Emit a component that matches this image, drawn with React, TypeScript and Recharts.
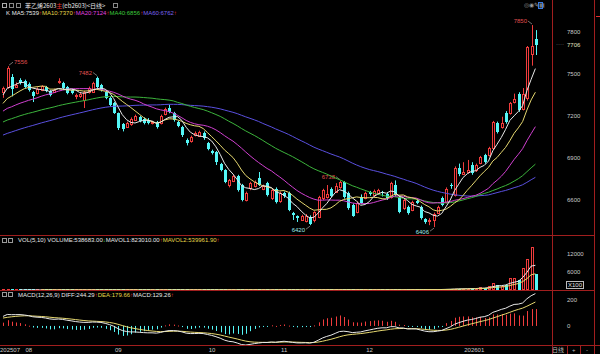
import React from "react";
import { ComposedChart, Bar, Line, XAxis, YAxis } from "recharts";

// eb2603 daily bars, 2025-07-24 .. 2026-01-27
const opens = [
  7370, 7405, 7480, 7410, 7457, 7450,
  7430, 7371, 7364, 7385, 7407, 7379, 7371, 7440, 7436, 7407, 7386, 7345, 7340, 7314, 7371, 7371, 7470, 7421, 7371, 7329, 7293,
  7221, 7143, 7125, 7140, 7175, 7190, 7180, 7175, 7150, 7157, 7150, 7214, 7257, 7221, 7157, 7121, 7029, 7021, 7064, 7060, 7079, 7007,
  6950, 6943, 6857, 6814, 6707, 6736, 6771, 6707, 6600, 6686, 6700, 6757, 6680, 6721, 6614, 6679, 6590,
  6650, 6650, 6507, 6486, 6457, 6450, 6479, 6457, 6479, 6614, 6620, 6679, 6660, 6690, 6729, 6650, 6564, 6514, 6621, 6614,
  6657, 6636, 6650, 6657, 6640, 6621, 6707, 6621, 6543, 6550, 6529, 6590, 6550, 6464, 6450, 6457, 6507, 6614, 6586, 6710, 6636, 6829, 6786,
  6800, 6850, 6814, 6864, 6921, 6921, 6971, 7150, 7120, 7221, 7221, 7300, 7357, 7250, 7330, 7640, 7750,
];
const highs = [
  7410, 7556, 7500, 7440, 7470, 7460,
  7440, 7380, 7405, 7420, 7415, 7385, 7395, 7470, 7445, 7415, 7395, 7360, 7370, 7380, 7410, 7445, 7482, 7430, 7380, 7340, 7300,
  7225, 7150, 7160, 7190, 7210, 7200, 7190, 7185, 7165, 7165, 7210, 7260, 7280, 7230, 7165, 7130, 7040, 7060, 7090, 7095, 7090, 7015,
  6960, 6950, 6865, 6820, 6750, 6780, 6780, 6715, 6660, 6730, 6740, 6800, 6710, 6730, 6680, 6690, 6660,
  6660, 6660, 6515, 6490, 6495, 6500, 6490, 6520, 6630, 6680, 6707, 6690, 6720, 6738, 6735, 6660, 6575, 6590, 6640, 6660,
  6665, 6675, 6680, 6665, 6650, 6730, 6740, 6630, 6610, 6560, 6595, 6600, 6560, 6470, 6470, 6510, 6560, 6625, 6690, 6720, 6840, 6860, 6870,
  6886, 6870, 6860, 6915, 6930, 6980, 7165, 7160, 7195, 7235, 7300, 7360, 7370, 7400, 7700, 7850, 7814,
];
const lows = [
  7330, 7395, 7340, 7400, 7425, 7400,
  7375, 7300, 7355, 7378, 7370, 7340, 7364, 7430, 7390, 7355, 7355, 7320, 7330, 7257, 7360, 7365, 7400, 7375, 7320, 7270, 7215,
  7100, 7090, 7115, 7130, 7165, 7155, 7140, 7140, 7140, 7110, 7140, 7205, 7220, 7160, 7120, 7050, 6990, 7010, 7055, 7050, 7030, 6955,
  6925, 6850, 6805, 6720, 6690, 6728, 6660, 6590, 6590, 6670, 6690, 6700, 6670, 6625, 6600, 6575, 6580,
  6615, 6520, 6457, 6443, 6450, 6440, 6420, 6440, 6470, 6600, 6610, 6620, 6650, 6680, 6610, 6530, 6480, 6505, 6570, 6605,
  6630, 6625, 6640, 6625, 6600, 6610, 6625, 6505, 6530, 6495, 6520, 6570, 6460, 6430, 6420, 6406, 6500, 6555, 6575, 6680, 6625, 6770, 6780,
  6790, 6780, 6800, 6855, 6860, 6910, 6960, 7075, 7110, 7145, 7210, 7290, 7230, 7240, 7310, 7560, 7636,
];
const closes = [
  7400, 7545, 7390, 7425, 7436, 7407,
  7386, 7343, 7393, 7414, 7380, 7350, 7386, 7452, 7400, 7364, 7364, 7352, 7360, 7371, 7400, 7436, 7407, 7386, 7329, 7279, 7221,
  7114, 7107, 7150, 7180, 7200, 7165, 7150, 7150, 7155, 7121, 7200, 7250, 7229, 7171, 7129, 7064, 7007, 7050, 7079, 7085, 7043, 6964,
  6936, 6871, 6814, 6729, 6743, 6771, 6671, 6600, 6650, 6721, 6730, 6707, 6700, 6636, 6671, 6586, 6650,
  6625, 6529, 6493, 6472, 6486, 6486, 6425, 6514, 6621, 6671, 6640, 6629, 6700, 6729, 6621, 6543, 6487, 6579, 6580, 6650,
  6643, 6664, 6671, 6650, 6614, 6721, 6636, 6514, 6600, 6507, 6586, 6580, 6471, 6443, 6460, 6500, 6550, 6564, 6680, 6706, 6829, 6786, 6800,
  6816, 6793, 6850, 6907, 6871, 6971, 7157, 7086, 7150, 7157, 7293, 7320, 7243, 7356, 7690, 7700, 7706,
];
// volume in lots x100
const volumes = [
  40, 60, 50, 35, 30, 30,
  35, 40, 30, 30, 35, 30, 25, 40, 35, 30, 30, 25, 30, 45, 35, 40, 50, 40, 35, 40, 45,
  55, 45, 40, 45, 40, 35, 35, 30, 30, 40, 35, 45, 40, 50, 45, 55, 45, 40, 35, 35, 45, 50,
  50, 55, 60, 65, 55, 50, 60, 65, 55, 50, 55, 60, 50, 60, 55, 65, 55,
  60, 70, 65, 60, 55, 55, 75, 70, 90, 80, 70, 65, 75, 80, 85, 90, 75, 70, 65, 70,
  70, 75, 70, 80, 85, 110, 100, 120, 100, 110, 115, 120, 140, 130, 125, 150, 140, 300, 350, 320, 500, 450, 460,
  470, 520, 500, 1000, 600, 1300, 2200, 1800, 1350, 1700, 4000, 4000, 3500, 7500, 10300, 14500, 5387,
];
// closes before the first visible bar; they only feed the averages
const priorCloses = [
  6820, 6800, 6810, 6830, 6845, 6840, 6860, 6850, 6870, 6880, 6875, 6890, 6900, 6895, 6910, 6920, 6930, 6925, 6950, 6940,
  6990, 7000, 7020, 7010, 7040, 7050, 7045, 7060, 7070, 7080, 7075, 7100, 7110, 7120, 7110, 7120, 7130, 7125, 7160, 7175,
  7150, 7170, 7160, 7190, 7200, 7180, 7175, 7195, 7190, 7190,
  7200, 7215, 7240, 7250, 7245, 7300, 7330, 7350, 7370,
];

const monthTicks = [0, 6, 27, 49, 66, 86, 109];
const monthLabels = ["202507", "08", "09", "10", "11", "12", "202601"];
const priceTicks = [6600, 6900, 7200, 7500, 7800];
const volTicks = [6000, 12000];
const macdTicks = [0, 200];
const highMarks = [1, 22, 79, 124];
const lowMarks = [72, 101];

const RED = "#f03c3c";
const CYAN = "#54f6f6";
const AXIS = "#a01e1e";
const TXT = "#c8c8c8";
const WHITE = "#e8e8e8";
const YELLOW = "#e6d84a";
const ARROW = "#e03030";
const FONT = '"Liberation Sans", Arial, sans-serif';
const CJK = '"Noto Sans CJK SC", sans-serif';
const X_DOMAIN: [number, number] = [-0.7, 128.9];

const P = priorCloses.length;
const allCloses = [...priorCloses, ...closes];

function sma(n: number, j: number) {
  let s = 0;
  for (let k = j - n + 1; k <= j; k++) s += allCloses[k];
  return s / n;
}

function ema(src: number[], n: number) {
  const a = 2 / (n + 1);
  const out: number[] = [];
  src.forEach((v, i) => out.push(i === 0 ? v : a * v + (1 - a) * out[i - 1]));
  return out;
}

const ema12 = ema(allCloses, 12);
const ema26 = ema(allCloses, 26);
const diffAll = ema12.map((v, i) => v - ema26[i]);
const deaAll = ema(diffAll, 9);

function volAvg(n: number, i: number) {
  if (i < n - 1) return null;
  let s = 0;
  for (let k = i - n + 1; k <= i; k++) s += volumes[k];
  return s / n;
}

const rows = closes.map((c, i) => {
  const j = i + P;
  return {
    i,
    open: opens[i],
    high: highs[i],
    low: lows[i],
    close: c,
    ma5: sma(5, j),
    ma10: sma(10, j),
    ma20: sma(20, j),
    ma40: sma(40, j),
    ma60: sma(60, j),
    vol: volumes[i],
    mavol1: volAvg(5, i),
    mavol2: volAvg(10, i),
    diff: diffAll[j],
    dea: deaAll[j],
    hist: 2 * (diffAll[j] - deaAll[j]),
  };
});

function Candle(props: any) {
  const { x, y, width, height, payload } = props;
  const cx = Math.round(x + width / 2);
  const { open, close, high, low, i } = payload;
  const k = height / (high - low);
  const py = (v: number) => y + (high - v) * k;
  const top = Math.round(py(Math.max(open, close)));
  const bot = Math.round(py(Math.min(open, close)));
  const up = close >= open;
  const col = up ? RED : CYAN;
  const hi = highMarks.includes(i);
  const lo = lowMarks.includes(i);
  return (
    <g>
      <line x1={cx + 0.5} x2={cx + 0.5} y1={y} y2={top} stroke={col} />
      <line x1={cx + 0.5} x2={cx + 0.5} y1={bot} y2={y + height} stroke={col} />
      {up ? (
        <rect x={cx - 0.5} y={top + 0.5} width={2} height={Math.max(bot - top, 1)} fill="#000" stroke={col} />
      ) : (
        <rect x={cx - 1} y={top} width={3} height={Math.max(bot - top, 1)} fill={col} />
      )}
      {hi && i < 5 && (
        <g>
          <line x1={cx + 1} y1={y - 1} x2={cx + 5} y2={y - 4} stroke="#bbb" strokeWidth={0.6} />
          <text x={cx + 6} y={y - 2} fontSize={6} fill="#e05050" fontFamily={FONT}>{high}</text>
        </g>
      )}
      {hi && i >= 5 && (
        <g>
          <line x1={cx} y1={y - 1} x2={cx - 4} y2={y - 4} stroke="#bbb" strokeWidth={0.6} />
          <text x={cx - 5} y={y - 2} fontSize={6} fill="#e05050" fontFamily={FONT} textAnchor="end">{high}</text>
        </g>
      )}
      {lo && (
        <g>
          <line x1={cx} y1={y + height + 1} x2={cx - 4} y2={y + height + 4} stroke="#bbb" strokeWidth={0.6} />
          <text x={cx - 5} y={y + height + 7} fontSize={6} fill="#9ee8e8" fontFamily={FONT} textAnchor="end">{low}</text>
        </g>
      )}
    </g>
  );
}

function VolBar(props: any) {
  const { x, y, width, height, payload } = props;
  const cx = Math.round(x + width / 2);
  const base = Math.round(y + height);
  const h = Math.max(Math.round(height), 1);
  const up = payload.close >= payload.open;
  if (up) {
    return <rect x={cx - 0.5} y={base - h + 0.5} width={2} height={Math.max(h - 1, 0.5)} fill="#000" stroke={RED} />;
  }
  return <rect x={cx - 1} y={base - h} width={3} height={h} fill={CYAN} />;
}

function HistBar(props: any) {
  const { x, y, width, height, payload } = props;
  const cx = Math.round(x + width / 2) + 0.5;
  const y1 = Math.min(y, y + height);
  const y2 = Math.max(y, y + height);
  return <line x1={cx} x2={cx} y1={y1} y2={Math.max(y2, y1 + 1)} stroke={payload.hist >= 0 ? RED : CYAN} />;
}

const axisTick = (p: any) => (
  <text x={567} y={p.y + 2} fill={TXT} fontSize={6} fontFamily={FONT}>
    {p.payload.value}
  </text>
);

const dateTick = (p: any) => (
  <text x={p.x - 3} y={60.5} fill={TXT} fontSize={6} fontFamily={FONT}>
    {monthLabels[monthTicks.indexOf(p.payload.value)]}
  </text>
);

// one line of header text; children are coloured spans that flow left to right
function Row({ x, y, s = 6, f = FONT, children }: any) {
  return (
    <div
      style={{
        position: "absolute",
        left: x,
        top: y - s * 0.5,
        fontSize: s,
        lineHeight: `${s}px`,
        whiteSpace: "nowrap",
        fontFamily: f,
        color: WHITE,
      }}
    >
      {children}
    </div>
  );
}
const S = ({ c, children }: any) => <span style={{ color: c }}>{children}</span>;

function Txt({ x, y, c = TXT, s = 6, children, f = FONT }: any) {
  return (
    <Row x={x} y={y} s={s} f={f}>
      <S c={c}>{children}</S>
    </Row>
  );
}

function HLine({ y, x1 = 0, x2 = 594, c = AXIS }: any) {
  return <div style={{ position: "absolute", left: x1, top: y, width: x2 - x1, height: 1, background: c }} />;
}
function VLine({ x, y1 = 0, y2 = 354, c = AXIS }: any) {
  return <div style={{ position: "absolute", left: x, top: y1, width: 1, height: y2 - y1, background: c }} />;
}
function Box({ x, y, w = 5, h = 5, c = "#888" }: any) {
  return (
    <div
      style={{
        position: "absolute",
        left: x,
        top: y,
        width: w,
        height: h,
        border: `1px solid ${c}`,
        boxSizing: "border-box",
      }}
    />
  );
}

export default function App() {
  return (
    <div style={{ position: "absolute", left: 0, top: 0, width: 600, height: 354, background: "#000", overflow: "hidden" }}>
      <div style={{ position: "absolute", left: 0, top: 0 }}>
        <ComposedChart width={600} height={236} data={rows} margin={{ top: 14, right: 0, bottom: 2, left: 0 }}>
          <XAxis type="number" dataKey="i" domain={X_DOMAIN} hide />
          <YAxis
            orientation="right"
            width={48}
            domain={[6357, 7929]}
            ticks={priceTicks}
            interval={0}
            axisLine={false}
            tickLine={false}
            tick={axisTick}
          />
          <Bar dataKey={(d: any) => [d.low, d.high]} shape={<Candle />} barSize={3} isAnimationActive={false} />
          <Line dataKey="ma60" stroke="#5a50e0" strokeWidth={1} dot={false} isAnimationActive={false} />
          <Line dataKey="ma40" stroke="#3cb43c" strokeWidth={1} dot={false} isAnimationActive={false} />
          <Line dataKey="ma20" stroke="#d040d0" strokeWidth={1} dot={false} isAnimationActive={false} />
          <Line dataKey="ma10" stroke="#e6d870" strokeWidth={1} dot={false} isAnimationActive={false} />
          <Line dataKey="ma5" stroke={WHITE} strokeWidth={1} dot={false} isAnimationActive={false} />
        </ComposedChart>
      </div>

      <div style={{ position: "absolute", left: 0, top: 236 }}>
        <ComposedChart width={600} height={55} data={rows} margin={{ top: 1, right: 0, bottom: 1, left: 0 }}>
          <XAxis type="number" dataKey="i" domain={X_DOMAIN} hide />
          <YAxis
            orientation="right"
            width={48}
            domain={[0, 17667]}
            ticks={volTicks}
            interval={0}
            axisLine={false}
            tickLine={false}
            tick={axisTick}
          />
          <Bar dataKey="vol" shape={<VolBar />} barSize={3} isAnimationActive={false} />
          <Line dataKey="mavol1" stroke={WHITE} strokeWidth={1} dot={false} isAnimationActive={false} />
          <Line dataKey="mavol2" stroke="#e6d870" strokeWidth={1} dot={false} isAnimationActive={false} />
        </ComposedChart>
      </div>

      <div style={{ position: "absolute", left: 0, top: 291 }}>
        <ComposedChart width={600} height={63} data={rows} margin={{ top: 1, right: 0, bottom: 0, left: 0 }}>
          <XAxis
            type="number"
            dataKey="i"
            domain={X_DOMAIN}
            ticks={monthTicks}
            interval={0}
            height={9}
            axisLine={false}
            tickLine={false}
            tick={dateTick}
          />
          <YAxis
            orientation="right"
            width={48}
            domain={[-121, 257]}
            ticks={macdTicks}
            interval={0}
            axisLine={false}
            tickLine={false}
            tick={axisTick}
          />
          <Bar dataKey="hist" shape={<HistBar />} barSize={1} isAnimationActive={false} />
          <Line dataKey="dea" stroke="#e6d870" strokeWidth={1} dot={false} isAnimationActive={false} />
          <Line dataKey="diff" stroke={WHITE} strokeWidth={1} dot={false} isAnimationActive={false} />
        </ComposedChart>
      </div>

      <HLine y={235} />
      <HLine y={290} />
      <HLine y={345} x2={600} />
      <VLine x={552} />
      <VLine x={594} />
      <HLine y={16} x1={596} x2={600} c="#e03030" />

      <Box x={2} y={3} c="#aaa" />
      <Box x={9} y={3} />
      <Box x={16} y={3} />
      <Row x={25} y={5.5} f={CJK}>
        <S c={WHITE}>苯乙烯2603</S>
        <S c={ARROW}>主</S>
        <S c={WHITE}>(eb2603)&lt;日线&gt;</S>
      </Row>
      <Box x={113} y={3} />

      <Row x={6} y={12.5}>
        <S c={WHITE}>K MA5:7539</S>
        <S c={ARROW}>↑</S>
        <S c={YELLOW}>MA10:7370</S>
        <S c={ARROW}>↑</S>
        <S c="#e040e0">MA20:7124</S>
        <S c={ARROW}>↑</S>
        <S c="#3cc83c">MA40:6856</S>
        <S c={ARROW}>↑</S>
        <S c="#7a64f0">MA60:6762</S>
        <S c={ARROW}>↑</S>
      </Row>

      <Txt x={524} y={5} c="#999">◎◉✎▦</Txt>
      <Box x={538} y={2} w={5} h={7} c="#3a7ae0" />

      <Txt x={556} y={44} c="#999">····</Txt>
      <Txt x={567} y={44.5} c="#e0e0c0">7706</Txt>

      <Box x={2} y={238} c="#999" />
      <Box x={8} y={238} c="#999" />
      <Row x={18} y={240}>
        <S c={WHITE}>VOL(5,10) VOLUME:538683.00</S>
        <S c="#3cc83c">↓</S>
        <S c={WHITE}>MAVOL1:823010.00</S>
        <S c={ARROW}>↑</S>
        <S c={YELLOW}>MAVOL2:539961.90</S>
        <S c={ARROW}>↑</S>
      </Row>
      <div
        style={{
          position: "absolute",
          left: 566,
          top: 281,
          width: 18,
          height: 8,
          border: "1px solid #bbb",
          boxSizing: "border-box",
        }}
      />
      <Txt x={568} y={285} c="#e0e0e0">X100</Txt>

      <Box x={2} y={292} c="#999" />
      <Box x={8} y={292} c="#999" />
      <Row x={18} y={294.5}>
        <S c={WHITE}>MACD(12,26,9) DIFF:244.29</S>
        <S c={ARROW}>↑</S>
        <S c={YELLOW}>DEA:179.66</S>
        <S c={ARROW}>↑</S>
        <S c={WHITE}>MACD:129.26</S>
        <S c={ARROW}>↑</S>
      </Row>

      <Txt x={552} y={349.5} c="#bbb" f={CJK}>日线</Txt>
      <VLine x={567} y1={346} y2={354} />
      <Txt x={572} y={349.5} c="#bbb">+</Txt>
      <VLine x={580} y1={346} y2={354} />
      <Txt x={586} y={349.5} c="#bbb">-</Txt>
    </div>
  );
}
